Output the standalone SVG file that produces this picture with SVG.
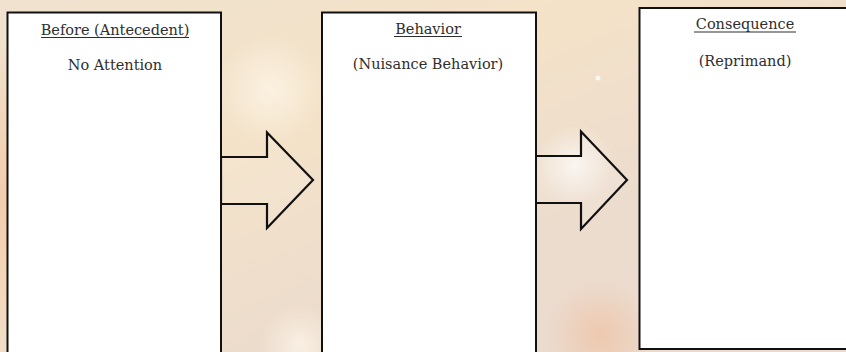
<svg xmlns="http://www.w3.org/2000/svg" width="846" height="352" viewBox="0 0 846 352">
<defs>
<style>
.box{fill:#ffffff;stroke:#111;stroke-width:2}
.t{font-family:"DejaVu Serif","Liberation Serif",serif;font-size:14.5px;fill:#2e2e2e;text-anchor:middle}
.ul{stroke:#2e2e2e;stroke-width:1.2}
.arrow{fill:#ffffff;fill-opacity:0.12;stroke:#111;stroke-width:2.2;stroke-linejoin:miter}
</style>
<linearGradient id="bg" x1="0" y1="0" x2="1" y2="1">
<stop offset="0" stop-color="#f0e2cf"/>
<stop offset="0.35" stop-color="#f4e2c8"/>
<stop offset="0.65" stop-color="#ecdccd"/>
<stop offset="1" stop-color="#e9dbd0"/>
</linearGradient>
<radialGradient id="b1"><stop offset="0" stop-color="#fff8ec" stop-opacity="0.7"/><stop offset="1" stop-color="#fff8ec" stop-opacity="0"/></radialGradient>
<radialGradient id="b2"><stop offset="0" stop-color="#f2b58e" stop-opacity="0.5"/><stop offset="1" stop-color="#f2b58e" stop-opacity="0"/></radialGradient>
<radialGradient id="b3"><stop offset="0" stop-color="#ffffff" stop-opacity="0.7"/><stop offset="1" stop-color="#ffffff" stop-opacity="0"/></radialGradient>
</defs>
<g id="background">
<rect x="0" y="0" width="846" height="352" fill="url(#bg)"/>
<ellipse cx="0" cy="200" rx="50" ry="160" fill="url(#b2)"/>
<circle cx="300" cy="345" r="40" fill="url(#b1)"/>
<circle cx="600" cy="335" r="55" fill="url(#b2)"/>
<circle cx="575" cy="165" r="40" fill="url(#b3)"/>
<circle cx="270" cy="90" r="55" fill="url(#b1)"/>
<circle cx="598" cy="78" r="2.5" fill="#ffffff" fill-opacity="0.7"/>
</g>
<g id="connectors">
<polygon class="arrow" points="221,157 267,157 267,132.5 313,180 267,228 267,204 221,204"/>
<polygon class="arrow" points="535,156 581,156 581,131.5 627,180 581,229 581,203 535,203"/>
</g>
<g id="node-before">
<rect class="box" x="7.5" y="12.5" width="213.5" height="345"/>
<text class="t" x="115" y="35">Before (Antecedent)</text>
<line class="ul" x1="41" y1="37.5" x2="189" y2="37.5"/>
<text class="t" x="115" y="70">No Attention</text>
</g>
<g id="node-behavior">
<rect class="box" x="322" y="12.5" width="214" height="345"/>
<text class="t" x="428" y="34">Behavior</text>
<line class="ul" x1="394" y1="36.5" x2="462" y2="36.5"/>
<text class="t" x="428" y="69">(Nuisance Behavior)</text>
</g>
<g id="node-consequence">
<rect class="box" x="639.5" y="8" width="210" height="341"/>
<text class="t" x="745" y="29">Consequence</text>
<line class="ul" x1="694" y1="32" x2="796" y2="32"/>
<text class="t" x="745" y="66">(Reprimand)</text>
</g>
</svg>
